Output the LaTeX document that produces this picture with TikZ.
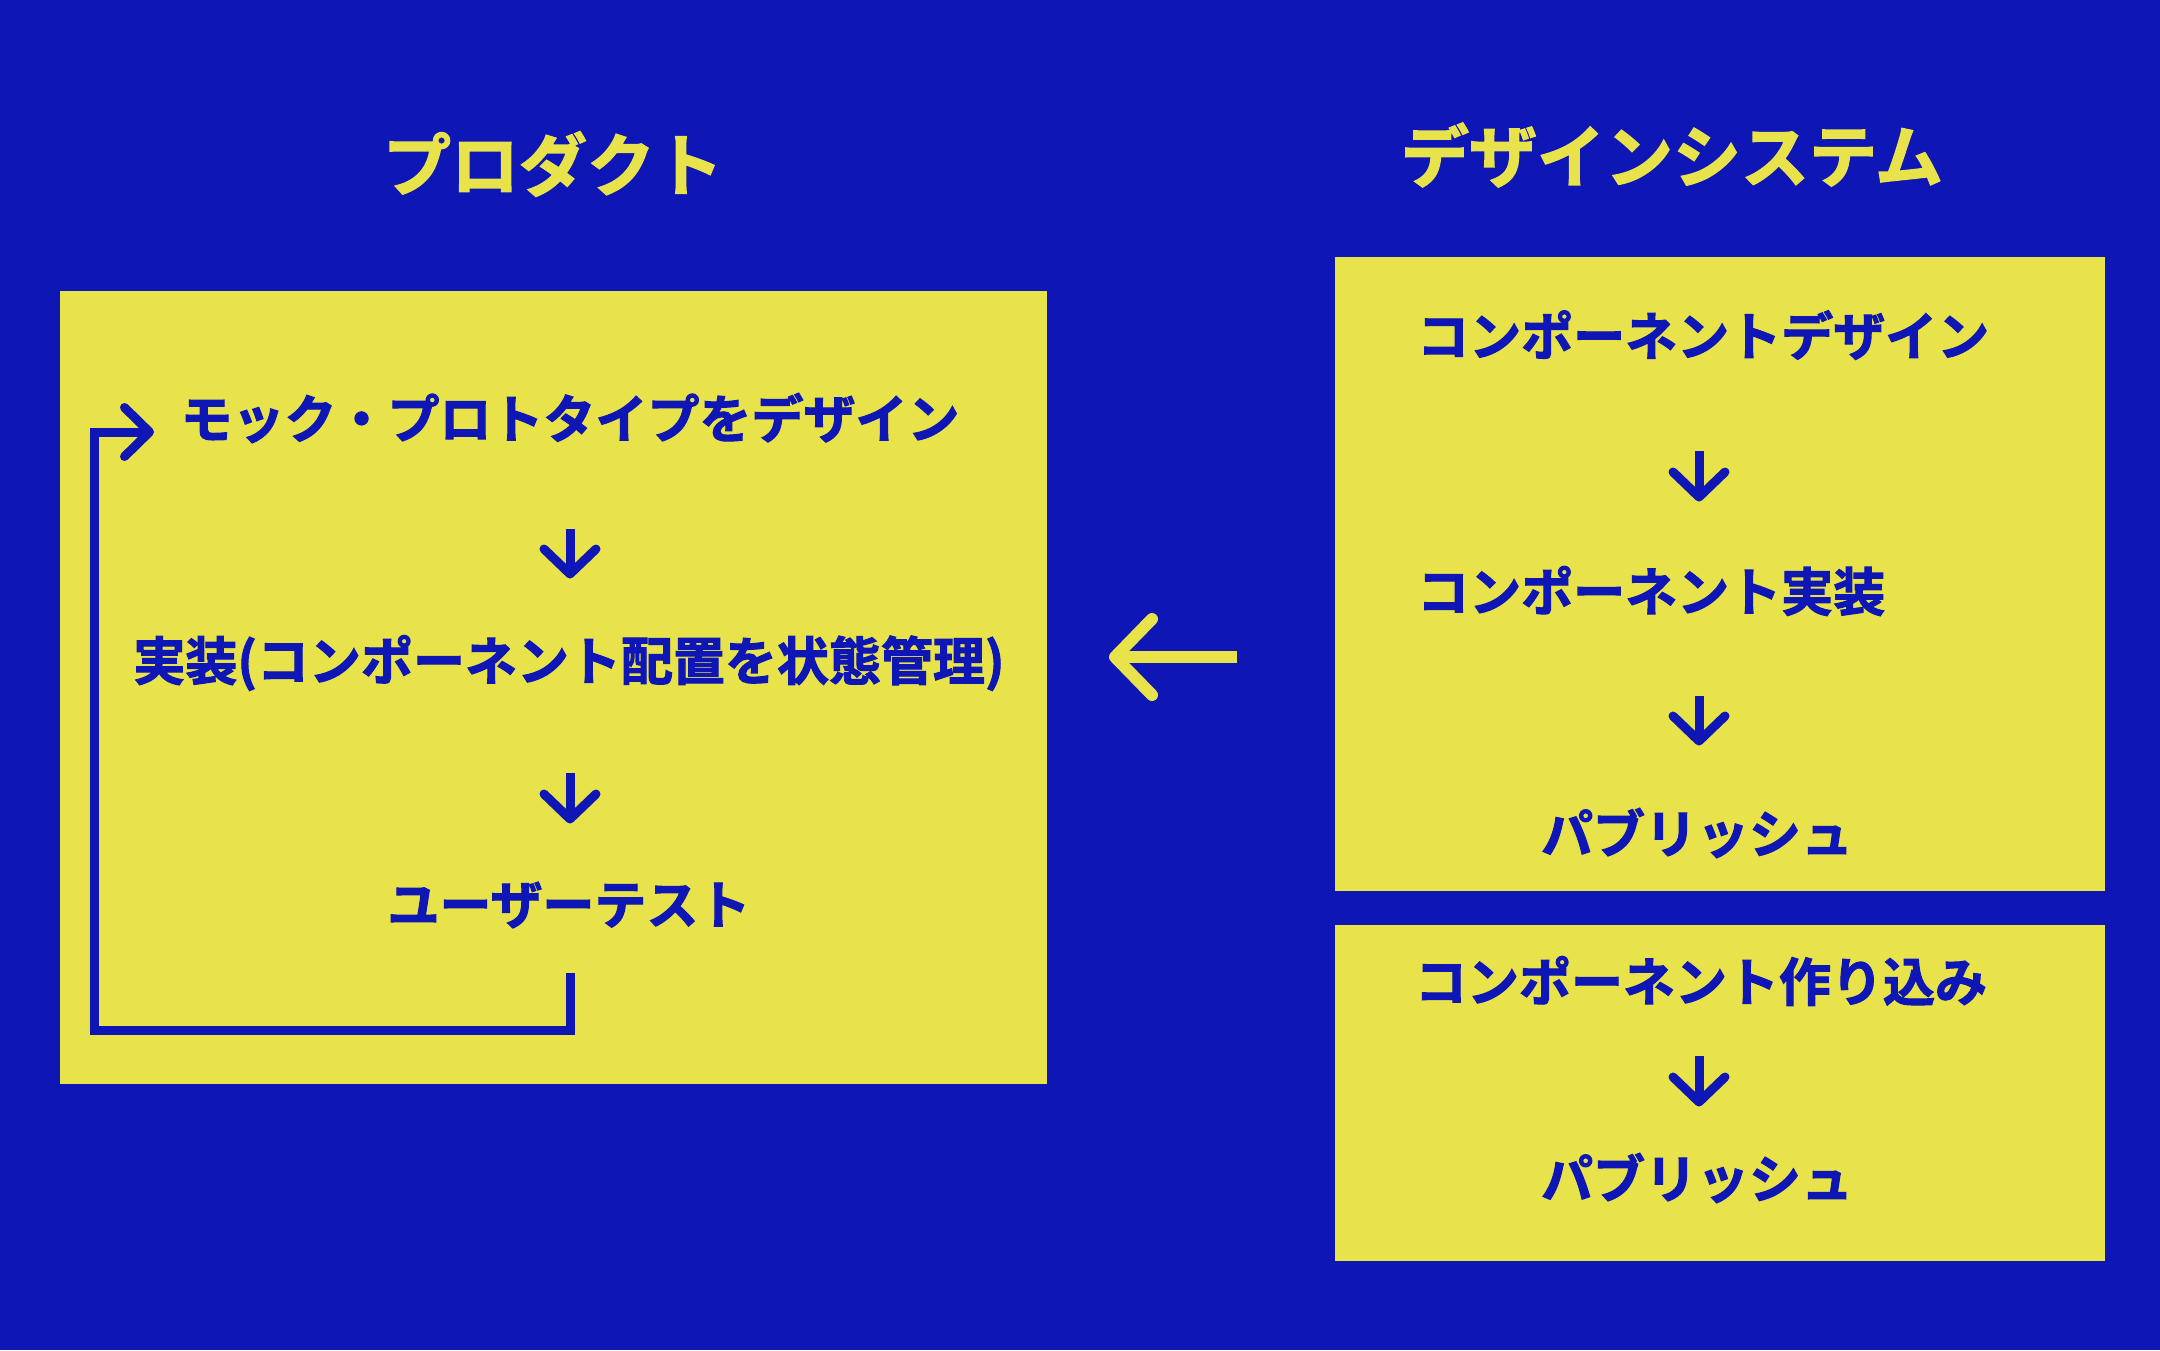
\documentclass[tikz,border=0pt]{standalone}
\usepackage{fontspec}
\usetikzlibrary{calc}
\setmainfont{Noto Sans CJK JP}[BoldFont={Noto Sans CJK JP Bold},BoldFeatures={FakeBold=2}]
\definecolor{bgblue}{RGB}{14,22,181}
\definecolor{boxyellow}{RGB}{232,226,75}
\begin{document}
\begin{tikzpicture}[x=1pt,y=-1pt,
  panel/.style={fill=boxyellow,draw=none},
  title/.style={text=boxyellow,inner sep=0pt,font=\bfseries\fontsize{68}{80}\selectfont},
  item/.style={text=bgblue,inner sep=0pt,font=\bfseries\fontsize{52}{60}\selectfont},
  shaft/.style={draw=bgblue,line width=9pt,line cap=butt},
  head/.style={draw=bgblue,line width=9pt,line cap=round,line join=round},
  loopline/.style={draw=bgblue,line width=9pt,line cap=butt,line join=miter},
  bigarrow/.style={draw=boxyellow,line width=12pt,line cap=round,line join=round}
]
\fill[bgblue] (0,0) rectangle (2160,1350);
\useasboundingbox (0,0) rectangle (2160,1350);

% panels
\path[panel] (60,291) rectangle (1047,1084);
\path[panel] (1335,257) rectangle (2105,891);
\path[panel] (1335,925) rectangle (2105,1261);

% titles
\node[title] (tprod) at (553,164) {プロダクト};
\node[title] (tds) at (1672,155) {デザインシステム};

% left panel items
\node[item] (mock) at (570,418) {モック・プロトタイプをデザイン};
\node[item] (impl) at (569,663) {実装(コンポーネント配置を状態管理)};
\node[item] (test) at (569,905) {ユーザーテスト};

% right panel items
\node[item,anchor=west] (cdes) at (1417,335) {コンポーネントデザイン};
\node[item,anchor=west] (cimp) at (1417,591) {コンポーネント実装};
\node[item] (pub1) at (1697,833) {パブリッシュ};
\node[item] (cfin) at (1701,981) {コンポーネント作り込み};
\node[item] (pub2) at (1697,1178) {パブリッシュ};

% small down arrows
\foreach \nm/\x/\ya/\yb in {la/570/529/578, lb/570/773/823, ra/1699/451/501, rb/1699/696/745, rc/1699/1056/1106}{
  \coordinate (\nm s) at (\x,\ya);
  \coordinate (\nm t) at (\x,\yb-4);
  \path[shaft] (\nm s) -- (\nm t);
  \path[head] ($(\nm t)+(-26,-25)$) -- (\nm t) -- ($(\nm t)+(26,-25)$);
}

% loop back arrow
\coordinate (lpstart) at (570,973);
\coordinate (lpbot) at (570,1030);
\coordinate (lpleft) at (94.5,1030);
\coordinate (lptop) at (94.5,432);
\coordinate (lptip) at (149.5,432);
\path[loopline] (lpstart) -- (lpbot) -- (lpleft) -- (lptop) -- (lptip);
\path[head] (124.5,407.5) -- (lptip) -- (124.5,456.5);

% big left arrow
\coordinate (bas) at (1237,657);
\coordinate (bat) at (1115,657);
\path[draw=boxyellow,line width=12pt,line cap=butt] (bas) -- (bat);
\path[bigarrow] (1152,619) -- (bat) -- (1152,695);
\end{tikzpicture}
\end{document}
